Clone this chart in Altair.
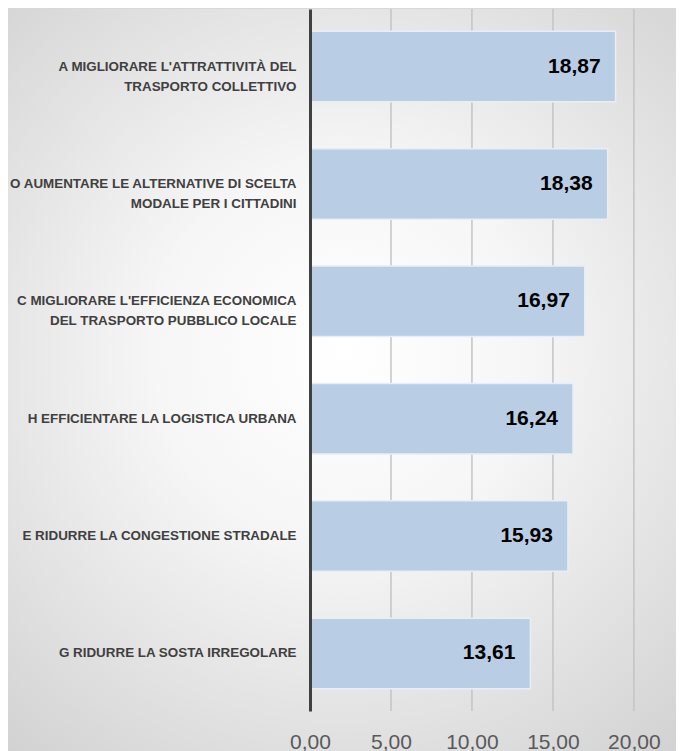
import altair as alt
import pandas as pd

# ---- data ----
categories = [
    "A MIGLIORARE L'ATTRATTIVITÀ DEL|TRASPORTO COLLETTIVO",
    "O AUMENTARE LE ALTERNATIVE DI SCELTA|MODALE PER I CITTADINI",
    "C MIGLIORARE L'EFFICIENZA ECONOMICA|DEL TRASPORTO PUBBLICO LOCALE",
    "H EFFICIENTARE LA LOGISTICA URBANA",
    "E RIDURRE LA CONGESTIONE STRADALE",
    "G RIDURRE LA SOSTA IRREGOLARE",
]
values = [18.87, 18.38, 16.97, 16.24, 15.93, 13.61]
x_ticks = [0, 5, 10, 15, 20]
grid_values = [5, 10, 15, 20]

W = 366
H = 702
XMAX = 22.6

df = pd.DataFrame({"cat": categories, "value": values})
grid_df = pd.DataFrame({"value": grid_values})

NB = "\u00a0"
label_expr = (
    "indexof(datum.label, '|') < 0 ? datum.label : "
    "[split(datum.label, '|')[0], "
    "pad(split(datum.label, '|')[1], length(split(datum.label, '|')[0]), '" + NB + "')]"
)

x_scale = alt.Scale(domain=[0, XMAX], nice=False, zero=True)
y_scale = alt.Scale(paddingInner=0.4, paddingOuter=0.19)

x_axis = alt.Axis(
    title=None,
    values=x_ticks,
    domain=False,
    ticks=False,
    tickSize=0,
    grid=False,
    labelExpr="replace(format(datum.value, '.2f'), '.', ',')",
    labelFont="Liberation Sans",
    labelFontSize=21,
    labelColor="#595959",
    labelPadding=20,
    labelOverlap=False,
    labelBound=False,
    labelFlush=False,
    zindex=1,
)

y_axis = alt.Axis(
    title=None,
    domain=True,
    domainColor="#404040",
    domainWidth=3,
    ticks=False,
    tickSize=0,
    labelExpr=label_expr,
    labelFont="Liberation Sans",
    labelFontSize=13.4,
    labelFontWeight="bold",
    labelColor="#404040",
    labelAlign="right",
    labelBaseline="middle",
    labelLineHeight=20,
    labelPadding=14,
    labelLimit=400,
    minExtent=302,
    maxExtent=302,
    zindex=1,
)

bg = alt.Chart(alt.Data(values=[{"k": 1}])).mark_rect(
    fill=alt.RadialGradient(
        gradient="radial",
        stops=[
            alt.GradientStop(color="#ffffff", offset=0),
            alt.GradientStop(color="#f6f6f6", offset=0.35),
            alt.GradientStop(color="#d0d0d0", offset=1),
        ],
        x1=0.5, y1=0.46, x2=0.5, y2=0.46, r1=0, r2=0.72,
    ),
    strokeWidth=0,
    clip=False,
).encode(
    x=alt.value(-302), x2=alt.value(W), y=alt.value(0), y2=alt.value(H + 45)
)

grid = alt.Chart(grid_df).mark_rule(color="#c4c4c4", strokeWidth=1.5).encode(
    x=alt.X("value:Q", scale=x_scale, axis=x_axis)
)

base = alt.Chart(df).transform_calculate(
    lbl="replace(format(datum.value, '.2f'), '.', ',')"
)

bars = base.mark_bar(color="#b9cde5", stroke="#e8eef6", strokeWidth=1.5).encode(
    y=alt.Y("cat:N", sort=categories, scale=y_scale, axis=y_axis),
    x=alt.X("value:Q", scale=x_scale, axis=x_axis),
)

texts = base.mark_text(
    align="right",
    baseline="middle",
    dx=-15,
    font="Liberation Sans",
    fontSize=21,
    fontWeight="bold",
    color="#000000",
).encode(
    y=alt.Y("cat:N", sort=categories, scale=y_scale, axis=y_axis),
    x=alt.X("value:Q", scale=x_scale, axis=x_axis),
    text="lbl:N",
)

chart = (
    alt.layer(bg, grid, bars, texts)
    .properties(width=W, height=H, padding={"left": 0, "top": 0, "right": 0, "bottom": 0})
    .configure_view(stroke=None)
    .configure(background="#d8d8d8")
)

chart.save("out.html", embed_options={"renderer": "svg", "actions": False})
